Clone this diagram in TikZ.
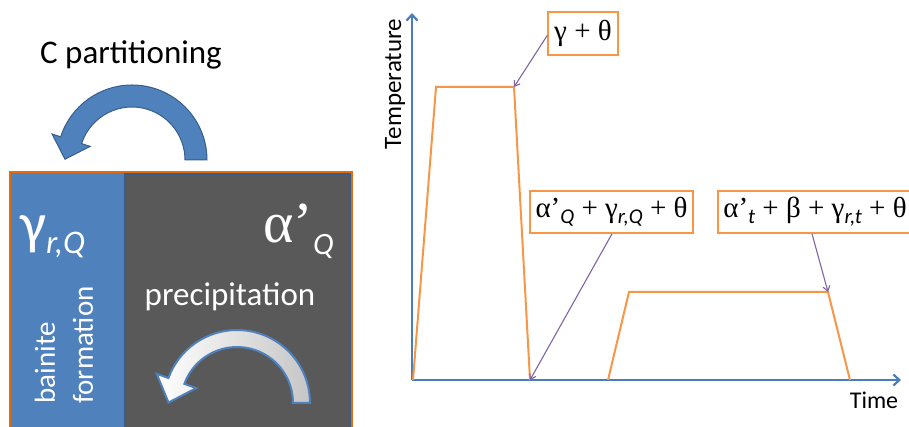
\documentclass[tikz,border=0pt]{standalone}
\usepackage{fontspec}
\setmainfont{Carlito}
\newfontfamily\serifx{Liberation Serif}
\usetikzlibrary{calc,arrows.meta,positioning}
\definecolor{bluex}{HTML}{4F81BD}
\definecolor{bluedk}{HTML}{385D8A}
\definecolor{axisx}{HTML}{4A7EBB}
\definecolor{orangex}{HTML}{F79646}
\definecolor{framex}{HTML}{E46C0A}
\definecolor{grayx}{HTML}{595959}
\definecolor{purplex}{HTML}{8064A2}
\newcommand{\phsub}[1]{\raisebox{-6pt}{\rmfamily\itshape\fontsize{21}{21}\selectfont #1}}
\tikzset{
  axis/.style={-{Straight Barb[length=6pt,width=11pt]},axisx,line width=2.2pt},
  ar/.style={-{Straight Barb[length=5pt,width=7pt]},purplex,line width=1.1pt},
  profile/.style={orangex,line width=2pt,line join=miter},
  phase/.style={draw=orangex,line width=1.6pt,fill=white,inner sep=0pt,
    minimum height=42pt,font=\serifx\fontsize{29}{30}\selectfont},
  wtxt/.style={text=white,inner sep=0pt}
}

\begin{document}
\begin{tikzpicture}[x=1pt,y=1pt]
\useasboundingbox (0,0) rectangle (909,427);
\clip (0,0) rectangle (909,427);
% left: the two phases
\fill[bluex] (10,-5) rectangle (125,255);
\draw[fill=grayx,draw=bluedk,line width=1.5pt] (125,-5) rectangle (350,253);
\draw[framex,line width=2.5pt] (10,-5) rectangle (352,255);
\node[wtxt,anchor=west] (gam) at (20,190) {\fontsize{58}{58}\selectfont γ\raisebox{-10pt}{\itshape\fontsize{33}{33}\selectfont r,Q}};
\node[wtxt,anchor=east] (alp) at (334,196) {{\serifx\fontsize{58}{58}\selectfont α’}\raisebox{-12pt}{\itshape\fontsize{31}{31}\selectfont Q}};
\node[wtxt,rotate=90,align=left,font=\fontsize{29}{38}\selectfont] (bain) at (64,82) {bainite\\formation};
\node[wtxt,font=\fontsize{33}{33}\selectfont] (prec) at (230,130) {precipitation};
\node[inner sep=0pt,font=\fontsize{33}{33}\selectfont] (cpart) at (131,372) {C partitioning};
% bent arrows
\coordinate (cc) at (132,267);
\draw[fill=bluex,draw=bluedk,line width=1pt]
  ($(cc)+(0:75pt)$) arc[start angle=0,end angle=162,radius=75pt]
  -- ($(cc)+(162:84pt)$) -- ($(cc)+(162:64pt)+(252:20pt)$) -- ($(cc)+(162:44pt)$)
  -- ($(cc)+(162:53pt)$) arc[start angle=162,end angle=0,radius=53pt] -- cycle;
\coordinate (pc) at (237,24);
\draw[left color=white,right color=gray!45,draw=bluex,line width=2pt]
  ($(pc)+(0:73pt)$) arc[start angle=0,end angle=160,radius=73pt]
  -- ($(pc)+(160:85.5pt)$) -- ($(pc)+(160:64.5pt)+(250:23pt)$) -- ($(pc)+(160:43.5pt)$)
  -- ($(pc)+(160:56pt)$) arc[start angle=160,end angle=0,radius=56pt] -- cycle;
% right: heat treatment
\coordinate (o) at (412,47);
\coordinate (ytop) at (412,414);
\coordinate (xend) at (901,47);
\draw[axis] (o) -- (ytop);
\draw[axis] (o) -- (xend);
\node[rotate=90,font=\fontsize{25}{25}\selectfont] (temp) at (395,343) {Temperature};
\node[font=\fontsize{24}{24}\selectfont] (time) at (874,27) {Time};
\coordinate (p0) at (413,47);
\coordinate (p1) at (436,340);
\coordinate (p2) at (514,340);
\coordinate (p3) at (530,47);
\coordinate (p4) at (608,47);
\coordinate (p5) at (629,135);
\coordinate (p6) at (828,135);
\coordinate (p7) at (850,47);
\draw[profile] (p0) -- (p1) -- (p2) -- (p3);
\draw[profile] (p4) -- (p5) -- (p6) -- (p7);
\node[phase,minimum width=70pt,minimum height=43pt] (aus) at (583,393.5) {γ + θ};
\node[phase,minimum width=163pt] (quen) at (611.5,215) {α’\phsub{Q} + γ\phsub{r,Q} + θ};
\node[phase,minimum width=194pt] (temp2) at (815,215) {α’\phsub{t} + β + γ\phsub{r,t} + θ};
\draw[ar] (aus.west) ++(0,-2) coordinate (a1) (a1) -- (p2);
\draw[ar] ([xshift=0.5pt]quen.south) -- (p3);
\draw[ar] ([xshift=-3pt]temp2.south) -- (p6);
\end{tikzpicture}
\end{document}
